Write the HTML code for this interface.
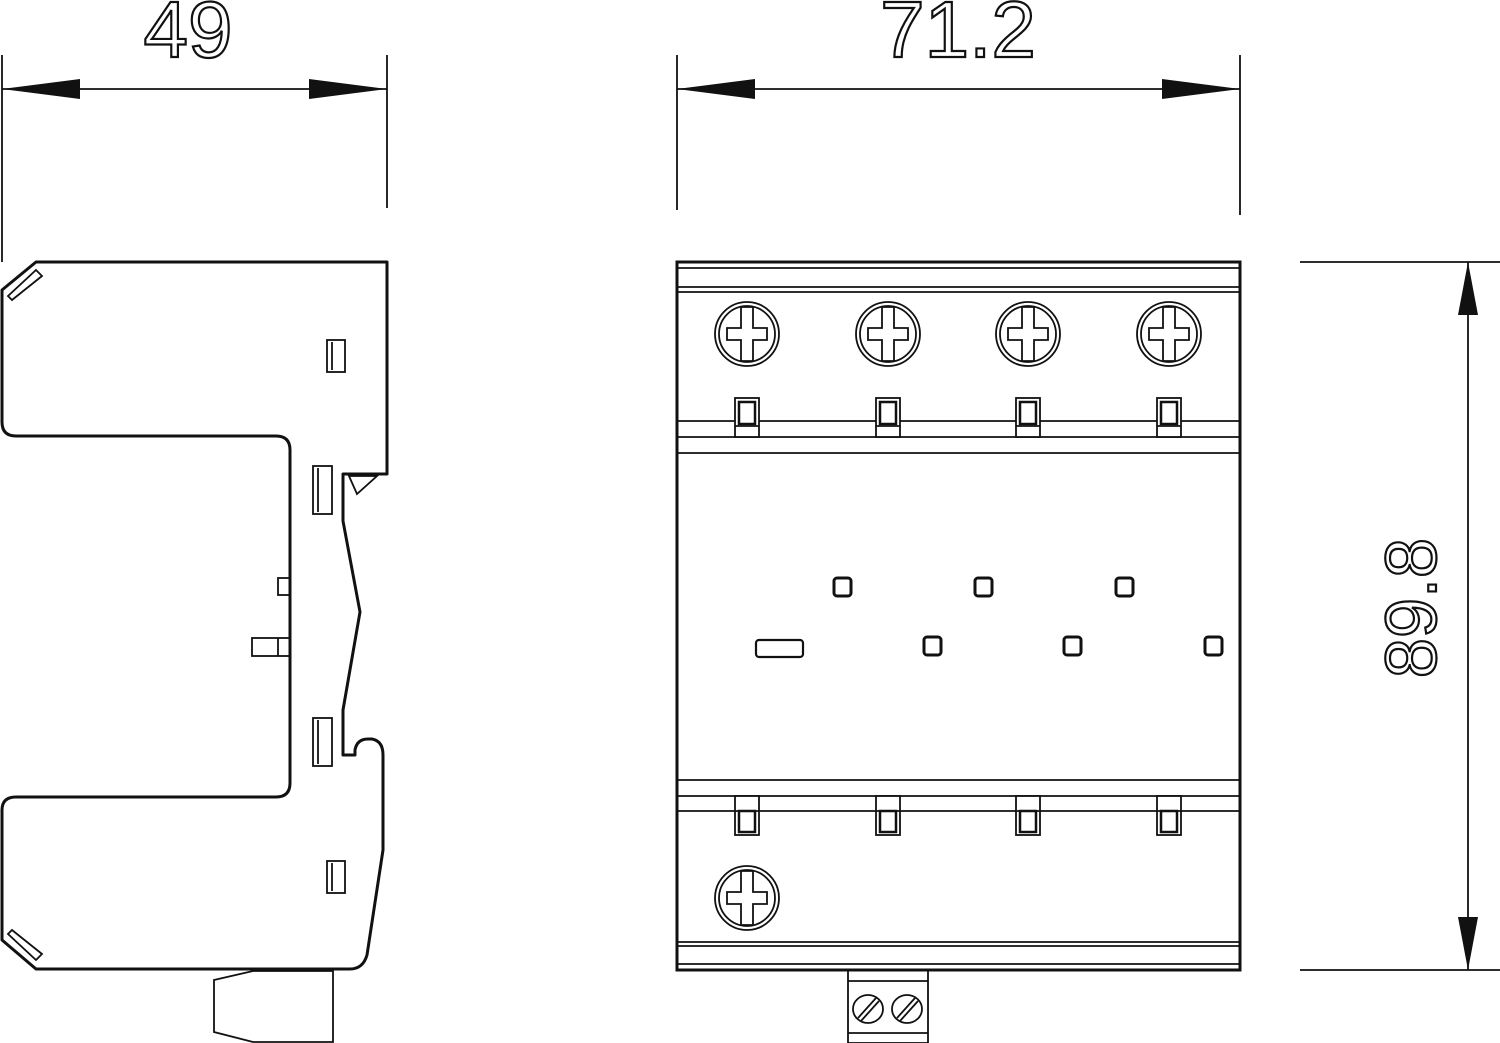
<!DOCTYPE html>
<html><head><meta charset="utf-8"><style>html,body{margin:0;padding:0;background:#fff}svg{display:block}</style></head>
<body>
<svg width="1500" height="1043" viewBox="0 0 1500 1043" xmlns="http://www.w3.org/2000/svg" fill="none" stroke="#111">
<!-- dimension 49 -->
<g stroke-width="1.8">
<line x1="2" y1="55" x2="2" y2="262"/>
<line x1="387" y1="55" x2="387" y2="208"/>
<line x1="2" y1="89" x2="387" y2="89"/>
<line x1="677" y1="55" x2="677" y2="210"/>
<line x1="1240" y1="55" x2="1240" y2="215"/>
<line x1="677" y1="89" x2="1240" y2="89"/>
<line x1="1300" y1="262" x2="1500" y2="262"/>
<line x1="1300" y1="970" x2="1500" y2="970"/>
<line x1="1468" y1="262" x2="1468" y2="970"/>
</g>
<g fill="#111" stroke="none">
<polygon points="2,89 80,79 80,99"/>
<polygon points="387,89 309,79 309,99"/>
<polygon points="677,89 755,79 755,99"/>
<polygon points="1240,89 1162,79 1162,99"/>
<polygon points="1468,262 1458,315 1478,315"/>
<polygon points="1468,970 1458,917 1478,917"/>
</g>
<g fill="none" stroke="#111" stroke-width="2.2" font-family="Liberation Sans, sans-serif" font-size="80">
<text x="188" y="57" text-anchor="middle">49</text>
<text x="958" y="57" text-anchor="middle">71.2</text>
<text transform="translate(1436,608) rotate(-90)" text-anchor="middle" font-size="72">89.8</text>
</g>

<!-- side view -->
<g stroke-width="3" stroke-linejoin="round">
<path d="M36,262 L387,262 L387,474 L343,474 L343,521 L360,612 L343,710 L343,755 L355,755 L355,750 Q357,739 368,739 L372,739 Q383,741 383,755 L383,850 L367,955 Q363,969 350,969 L36,969 L2,940 L2,810 Q2,797 16,797 L276,797 Q290,797 290,783 L290,450 Q290,436 276,436 L16,436 Q2,436 2,422 L2,290 Z"/>
</g>
<g stroke-width="1.8">
<rect x="327" y="340" width="18" height="32"/><line x1="332" y1="342" x2="332" y2="370"/>
<rect x="313" y="466" width="19" height="48"/><line x1="318" y1="468" x2="318" y2="512"/>
<rect x="313" y="718" width="19" height="48"/><line x1="318" y1="720" x2="318" y2="764"/>
<rect x="327" y="861" width="18" height="32"/><line x1="332" y1="863" x2="332" y2="891"/>
<polygon points="349,476 377,476 357,494"/>
<rect x="278" y="578" width="12" height="17"/>
<rect x="252" y="638" width="38" height="18"/><line x1="278" y1="638" x2="278" y2="656"/>
<path d="M8,296 L36,270 L42,276 L12,300 Z"/>
<path d="M8,934 L36,960 L42,954 L12,930 Z"/>
<polygon points="214,980 253,971 333,971 333,1042 253,1042 214,1032"/>
</g>

<!-- front view -->
<g stroke-width="1.8">
<rect x="677" y="262" width="563" height="708" stroke-width="3"/>
<line x1="677" y1="268" x2="1240" y2="268"/>
<line x1="677" y1="287" x2="1240" y2="287"/>
<line x1="677" y1="292" x2="1240" y2="292"/>
<line x1="677" y1="421" x2="1240" y2="421"/>
<line x1="677" y1="437" x2="1240" y2="437"/>
<line x1="677" y1="453" x2="1240" y2="453"/>
<line x1="677" y1="780" x2="1240" y2="780"/>
<line x1="677" y1="796" x2="1240" y2="796"/>
<line x1="677" y1="811" x2="1240" y2="811"/>
<line x1="677" y1="942" x2="1240" y2="942"/>
<line x1="677" y1="946" x2="1240" y2="946"/>
<line x1="677" y1="964" x2="1240" y2="964"/>
</g>
<defs>
<g id="scr" stroke-width="1.8">
<circle r="32"/><circle r="28"/>
<path d="M-6,-27 L6,-27 L6,-6 L20,-6 L20,6 L6,6 L6,27 L-6,27 L-6,6 L-20,6 L-20,-6 L-6,-6 Z" fill="#fff"/>
</g>
<g id="clipT" stroke-width="1.8">
<rect x="0" y="0" width="24" height="39" fill="#fff"/>
<rect x="4" y="4" width="16" height="22" stroke-width="2.5"/>
<line x1="0" y1="28" x2="24" y2="28"/>
</g>
<g id="clipB" stroke-width="1.8">
<rect x="0" y="0" width="24" height="39" fill="#fff"/>
<line x1="0" y1="15" x2="24" y2="15"/>
<rect x="4" y="15" width="16" height="21" stroke-width="2.5"/>
</g>
</defs>
<use href="#scr" x="747" y="334"/><use href="#scr" x="888" y="334"/><use href="#scr" x="1028" y="334"/><use href="#scr" x="1169" y="334"/>
<use href="#scr" x="747" y="898"/>
<use href="#clipT" x="735" y="398"/><use href="#clipT" x="876" y="398"/><use href="#clipT" x="1016" y="398"/><use href="#clipT" x="1157" y="398"/>
<use href="#clipB" x="735" y="796"/><use href="#clipB" x="876" y="796"/><use href="#clipB" x="1016" y="796"/><use href="#clipB" x="1157" y="796"/>
<g stroke-width="3">
<rect x="834" y="578" width="17" height="18" rx="3"/>
<rect x="975" y="578" width="17" height="18" rx="3"/>
<rect x="1116" y="578" width="17" height="18" rx="3"/>
<rect x="924" y="637" width="17" height="18" rx="3"/>
<rect x="1064" y="637" width="17" height="18" rx="3"/>
<rect x="1205" y="637" width="17" height="18" rx="3"/>
<rect x="756" y="640" width="47" height="17" rx="3" stroke-width="2.2"/>
</g>
<g stroke-width="1.8">
<rect x="848" y="970" width="80" height="73"/>
<line x1="848" y1="981" x2="928" y2="981"/>
<line x1="848" y1="1033" x2="928" y2="1033"/>
<ellipse cx="868" cy="1009" rx="15" ry="14"/>
<ellipse cx="907" cy="1009" rx="15" ry="14"/>
<line x1="858" y1="1018" x2="876" y2="998"/><line x1="861" y1="1021" x2="879" y2="1001"/>
<line x1="897" y1="1018" x2="915" y2="998"/><line x1="900" y1="1021" x2="918" y2="1001"/>
</g>
</svg>
</body></html>
